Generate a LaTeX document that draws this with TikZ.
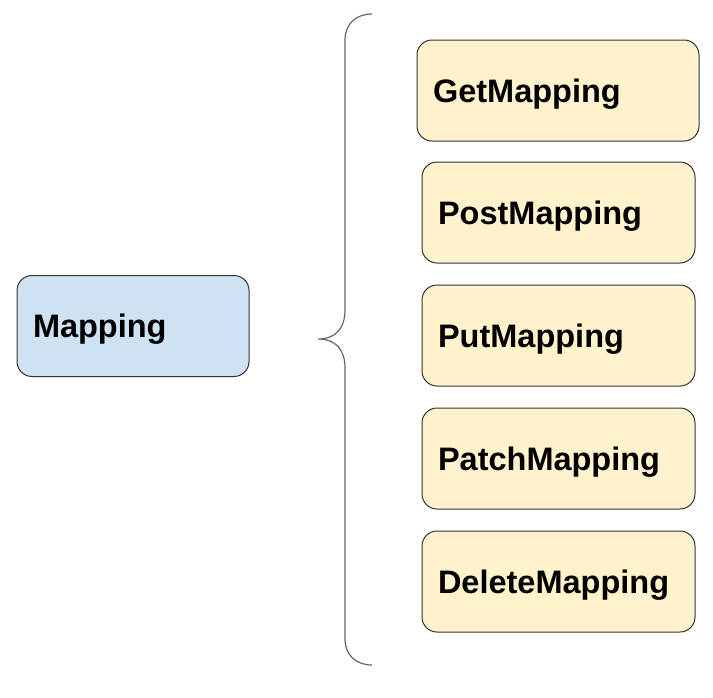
\documentclass[tikz,border=0pt]{standalone}
\usepackage{fontspec}
\setmainfont{Liberation Sans}
\definecolor{ybox}{HTML}{FFF2CC}
\definecolor{bbox}{HTML}{CFE2F3}
\definecolor{edge}{HTML}{333333}
\definecolor{bracec}{HTML}{666666}
\begin{document}
\begin{tikzpicture}[x=1pt,y=-1pt,
  itembox/.style={draw=edge, line width=1pt, rounded corners=15pt, inner sep=0pt,
    minimum height=101pt, font=\fontsize{32.5}{36}\selectfont\bfseries, align=left,
    text depth=0pt},
]
\useasboundingbox[fill=white] (0,0) rectangle (713,697);
\node[itembox, fill=bbox, minimum width=232pt, text width=200pt] (map) at (133,326) {Mapping};
\node[itembox, fill=ybox, minimum width=282pt, text width=250pt] (get) at (558,90.5) {GetMapping};
\node[itembox, fill=ybox, minimum width=273pt, text width=241pt] (post) at (558.5,212.5) {PostMapping};
\node[itembox, fill=ybox, minimum width=273pt, text width=241pt] (put) at (558.5,335.5) {PutMapping};
\node[itembox, fill=ybox, minimum width=273pt, text width=241pt] (patch) at (558.5,458.5) {PatchMapping};
\node[itembox, fill=ybox, minimum width=273pt, text width=241pt] (del) at (558.5,581.5) {DeleteMapping};
% brace
\coordinate (btop) at (372,14);
\coordinate (btip) at (318,339);
\coordinate (bbot) at (372,665);
\draw[bracec, line width=1.2pt] (btop) .. controls (356,14) and (345,24) .. (345,40)
  -- (345,310) .. controls (345,328) and (336,339) .. (btip)
  .. controls (336,339) and (345,350) .. (345,368)
  -- (345,639) .. controls (345,655) and (356,665) .. (bbot);
\end{tikzpicture}
\end{document}
